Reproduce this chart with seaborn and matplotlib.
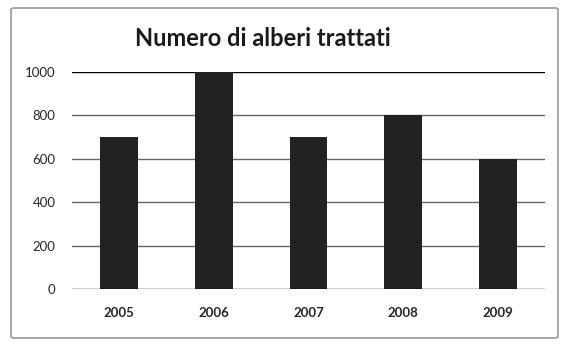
import matplotlib
matplotlib.use("Agg")
import matplotlib.pyplot as plt
import seaborn as sns
import pandas as pd
from matplotlib.patches import FancyBboxPatch

years = ["2005", "2006", "2007", "2008", "2009"]
values = [700, 1000, 700, 800, 600]
yticks = [0, 200, 400, 600, 800, 1000]
title = "Numero di alberi trattati"

sns.set_style("white")
plt.rcParams['font.family'] = ['Lato', 'DejaVu Sans']

df = pd.DataFrame({"anno": years, "valore": values})

fig = plt.figure(figsize=(5.7, 3.48), dpi=100)
fig.patch.set_facecolor("white")
ax = fig.add_axes([72/570, 1-289/348, (545-72)/570, (289-72)/348])

for y in yticks:
    ax.axhline(y, color="#000000" if y in (0, 1000) else "#666666", lw=1.0,
               zorder=3 if y == 0 else 0)

sns.barplot(data=df, x="anno", y="valore", color="#222222", width=0.4,
            saturation=1, linewidth=0, ax=ax, zorder=2)

ax.set_ylim(0, 1000)
ax.set_yticks(yticks)
ax.set_yticklabels([str(v) for v in yticks], fontsize=9.5)
ax.set_xlabel("")
ax.set_ylabel("")
for lbl in ax.get_xticklabels():
    lbl.set_fontweight("bold")
    lbl.set_fontsize(9.5)
ax.tick_params(axis="y", length=0, pad=12)
ax.tick_params(axis="x", length=0, pad=13)
for s in ax.spines.values():
    s.set_visible(False)
ax.set_facecolor("none")

fig.text(263/570, 1-38/348, title, ha="center", va="center",
         fontsize=17, fontweight="bold", color="#1a1a1a")

border = FancyBboxPatch((11/570, 1-338/348), (558-11)/570, (338-8)/348,
                        boxstyle="round,pad=0,rounding_size=0.005",
                        transform=fig.transFigure, fill=False,
                        edgecolor="#9a9a9a", lw=1.2)
fig.patches.append(border)

fig.savefig("out.png", dpi=100)
